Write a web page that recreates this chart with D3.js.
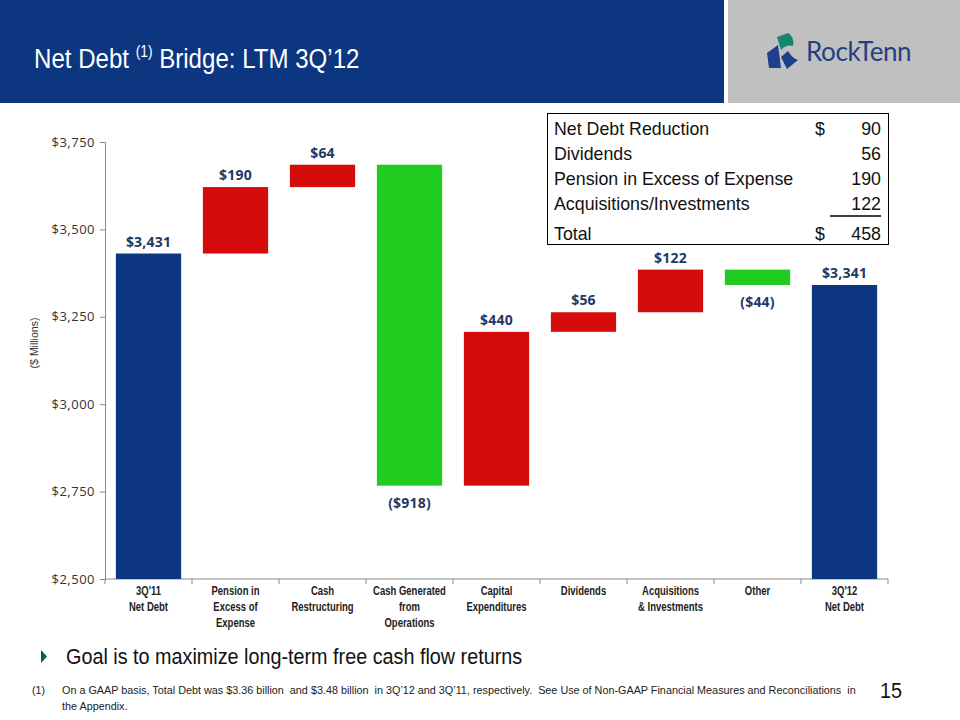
<!DOCTYPE html>
<html>
<head>
<meta charset="utf-8">
<script src="https://cdn.jsdelivr.net/npm/d3@7"></script>
<style>
  body { margin: 0; background: #fff; }
  svg { display: block; }
</style>
</head>
<body>
<div id="vis"></div>
<script>
// waterfall steps, in $ millions
const categories = ["3Q'11|Net Debt", "Pension in|Excess of|Expense", "Cash|Restructuring",
  "Cash Generated|from|Operations", "Capital|Expenditures", "Dividends",
  "Acquisitions|& Investments", "Other", "3Q'12|Net Debt"];
const kinds = ["total", "delta", "delta", "delta", "delta", "delta", "delta", "delta", "total"];
const values = [3431, 190, 64, -918, 440, 56, 122, -44, 3341];
const labels = ["$3,431", "$190", "$64", "($918)", "$440", "$56", "$122", "($44)", "$3,341"];
const yTicks = [2500, 2750, 3000, 3250, 3500, 3750];

const tableRows = ["Net Debt Reduction", "Dividends", "Pension in Excess of Expense", "Acquisitions/Investments", "Total"];
const tableDollar = ["$", "", "", "", "$"];
const tableValues = ["90", "56", "190", "122", "458"];

const width = 960, height = 720;
const navy = "#0c3680";
const labelColor = "#1f3864";
const arial = "'Liberation Sans', Arial, sans-serif";

const svg = d3.select("#vis").append("svg")
  .attr("width", width)
  .attr("height", height)
  .attr("viewBox", [0, 0, width, height]);

// no Arial Narrow here, so squeeze Liberation Sans horizontally
function narrow(parent, x, y, sx) {
  return parent.append("g")
    .attr("transform", `translate(${x},${y}) scale(${sx},1)`)
    .append("text")
    .attr("font-family", arial);
}

// header
svg.append("rect").attr("x", 0).attr("y", 0).attr("width", 724).attr("height", 103).attr("fill", navy);
svg.append("rect").attr("x", 728).attr("y", 0).attr("width", 232).attr("height", 103).attr("fill", "#c0c0c0");

const title = narrow(svg, 34, 68, 0.86)
  .attr("fill", "#fff")
  .attr("font-size", 28);
title.append("tspan").text("Net Debt ");
title.append("tspan").attr("font-size", 16).attr("dy", -11).text("(1)");
title.append("tspan").attr("dy", 11).text(" Bridge: LTM 3Q\u201912");

// logo
const logo = svg.append("g");
logo.append("path").attr("d", "M777,37 L788,33 Q795,37 793,46 Q786,44 781,50 Z").attr("fill", "#17876b");
logo.append("path").attr("d", "M767,53 L778,45 L781,68 L769,68 Z").attr("fill", "#1d3f8c");
logo.append("path").attr("d", "M781,57 L788,51 Q792,58 798,60 L787,69 Z").attr("fill", "#1d3f8c");
logo.append("text")
  .attr("x", 806).attr("y", 61)
  .attr("fill", "#243f86")
  .attr("font-family", "'Lato', 'DejaVu Sans', sans-serif")
  .attr("font-size", 26)
  .attr("letter-spacing", -0.4)
  .text("RockTenn");

// chart scales
const x = d3.scaleBand().domain(categories).range([105, 888]).paddingInner(0.25).paddingOuter(0.125);
const y = d3.scaleLinear().domain([2500, 3750]).range([579, 142]);

// compute waterfall segments
let running = 0;
const bars = values.map((v, i) => {
  let lo, hi;
  if (kinds[i] === "total") {
    lo = 2500; hi = v; running = v;
  } else {
    const start = running;
    running += v;
    lo = Math.min(start, running); hi = Math.max(start, running);
  }
  const color = kinds[i] === "total" ? navy : (v > 0 ? "#d60b0b" : "#20cc20");
  return { cat: categories[i], lo, hi, v, color, label: labels[i], neg: kinds[i] === "delta" && v < 0 };
});

// y axis
const yAxis = svg.append("g")
  .attr("transform", "translate(105,0)")
  .call(d3.axisLeft(y).tickValues(yTicks).tickSize(5).tickPadding(5)
    .tickFormat(d => "$" + d3.format(",")(d)));
yAxis.select(".domain").attr("stroke", "#888");
yAxis.selectAll(".tick line").attr("stroke", "#888");
yAxis.selectAll(".tick text")
  .attr("fill", "#333")
  .attr("font-family", "'Open Sans', 'Noto Sans', sans-serif")
  .attr("font-size", 13)
  .attr("letter-spacing", 0.5);

narrow(svg, 38, 343, 1)
  .attr("transform", "rotate(-90)")
  .attr("text-anchor", "middle")
  .attr("font-size", 10.5)
  .attr("fill", "#333")
  .text("($ Millions)");

// x axis
const xAxis = svg.append("g")
  .attr("transform", "translate(0,579)");
xAxis.append("line").attr("x1", 105).attr("x2", 888).attr("stroke", "#888");
xAxis.selectAll("line.tk")
  .data(d3.range(categories.length + 1))
  .join("line")
  .attr("class", "tk")
  .attr("x1", i => 105 + i * x.step()).attr("x2", i => 105 + i * x.step())
  .attr("y1", 0).attr("y2", 5)
  .attr("stroke", "#888");

categories.forEach(d => {
  const t = narrow(svg, x(d) + x.bandwidth() / 2, 595, 0.76)
    .attr("text-anchor", "middle")
    .attr("font-weight", "bold")
    .attr("font-size", 12.5)
    .attr("fill", "#222");
  d.split("|").forEach((line, i) => {
    t.append("tspan").attr("x", 0).attr("dy", i === 0 ? 0 : 16).text(line);
  });
});

// bars
svg.append("g").selectAll("rect")
  .data(bars)
  .join("rect")
  .attr("x", d => x(d.cat))
  .attr("width", x.bandwidth())
  .attr("y", d => y(d.hi))
  .attr("height", d => y(d.lo) - y(d.hi))
  .attr("fill", d => d.color);

svg.append("g").selectAll("text")
  .data(bars)
  .join("text")
  .attr("x", d => x(d.cat) + x.bandwidth() / 2)
  .attr("y", d => d.neg ? y(d.lo) + 22 : y(d.hi) - 7)
  .attr("text-anchor", "middle")
  .attr("font-family", "'Open Sans', 'Noto Sans', sans-serif")
  .attr("font-weight", "bold")
  .attr("font-size", 14)
  .attr("letter-spacing", 0.2)
  .attr("fill", labelColor)
  .text(d => d.label);

// summary table
const tbl = svg.append("g");
tbl.append("rect").attr("x", 547.5).attr("y", 113.5).attr("width", 341).attr("height", 131)
  .attr("fill", "#fff").attr("stroke", "#000").attr("stroke-width", 1);
const rowY = [135, 160, 185, 210, 240];
tableRows.forEach((r, i) => {
  const ty = rowY[i];
  const f = t => t.attr("font-family", arial).attr("font-size", 17.8).attr("fill", "#111");
  f(tbl.append("text").attr("x", 554).attr("y", ty).text(r));
  if (tableDollar[i]) f(tbl.append("text").attr("x", 815).attr("y", ty).text(tableDollar[i]));
  f(tbl.append("text").attr("x", 881).attr("y", ty).attr("text-anchor", "end").text(tableValues[i]));
});
tbl.append("line").attr("x1", 830).attr("x2", 881).attr("y1", 216).attr("y2", 216).attr("stroke", "#000").attr("stroke-width", 1.5);

// bullet and footnote
svg.append("path").attr("d", "M41,650 L47,656.5 L41,663 Z").attr("fill", "#0b5a58");
narrow(svg, 66, 664, 0.9)
  .attr("font-size", 22)
  .attr("fill", "#111")
  .text("Goal is to maximize long-term free cash flow returns");

narrow(svg, 32, 694, 0.92).attr("font-size", 11.5).attr("fill", "#222").text("(1)");
narrow(svg, 62, 694, 0.94).attr("font-size", 11.5).attr("fill", "#222")
  .style("white-space", "pre")
  .text("On a GAAP basis, Total Debt was $3.36 billion  and $3.48 billion  in 3Q\u201912 and 3Q\u201911, respectively.  See Use of Non-GAAP Financial Measures and Reconciliations  in");
narrow(svg, 62, 710, 0.94).attr("font-size", 11.5).attr("fill", "#222").text("the Appendix.");
narrow(svg, 880, 698, 0.9).attr("font-size", 22).attr("fill", "#111").text("15");
</script>
</body>
</html>
